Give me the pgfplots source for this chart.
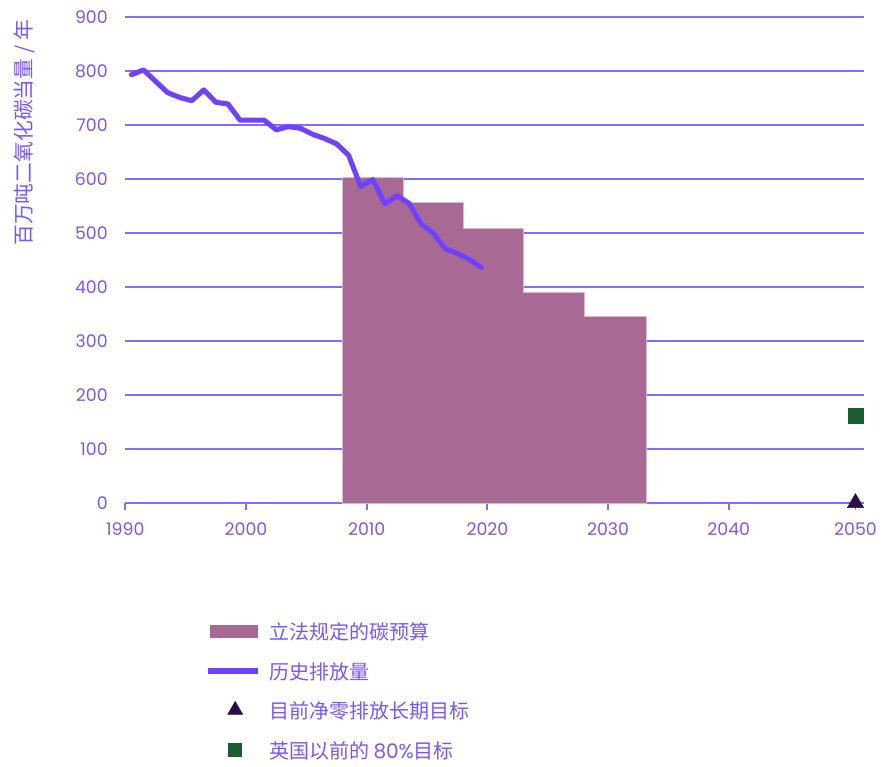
\documentclass[border=0pt]{standalone}
\usepackage{fontspec}
\setmainfont{Poppins}
\newfontfamily\cjk{Noto Sans CJK SC}
\newfontfamily\latinfont{Poppins}
\usepackage{pgfplots}
\pgfplotsset{compat=1.18}
\definecolor{txt}{RGB}{120,88,248}
\definecolor{gridc}{RGB}{135,105,255}
\definecolor{emis}{RGB}{112,66,255}
\definecolor{budget}{RGB}{168,106,148}
\definecolor{budgetedge}{RGB}{212,192,204}
\definecolor{netzero}{RGB}{45,12,75}
\definecolor{eighty}{RGB}{26,94,48}

\begin{document}
\begin{tikzpicture}
\path[use as bounding box] (-94pt,-198pt) rectangle (574.3pt,377.25pt);
\begin{axis}[
  at={(0,0)}, anchor=south west,
  scale only axis, width=554pt, height=364.5pt,
  xmin=1990, xmax=2051.2, ymin=0, ymax=900,
  clip=false,
  axis lines*=left,
  x axis line style={gridc, line width=1.4pt},
  y axis line style={draw=none},
  xtick={1990,2000,2010,2020,2030,2040,2050.5},
  xticklabels={1990,2000,2010,2020,2030,2040,2050},
  ytick={0,100,...,900},
  xtick align=outside,
  xtick style={gridc, line width=1.4pt},
  major tick length=5pt,
  ytick style={draw=none},
  ymajorgrids,
  grid style={gridc, line width=1.2pt},
  /pgf/number format/assume math mode=true,
  tick label style={font=\latinfont\fontsize{13pt}{15pt}\selectfont, text=txt},
  xticklabel style={inner sep=0pt, anchor=north, yshift=-10pt, text height=9.5pt, text depth=0pt},
  yticklabel style={inner sep=0pt, anchor=east, xshift=-13pt},
  ylabel={\cjk 百万吨二氧化碳当量 / 年},
  ylabel style={at={(axis description cs:-0.137,0.994)}, anchor=east, inner sep=0pt,
    font=\fontsize{15.6pt}{18pt}\selectfont, text=txt},
  legend cell align=left,
  legend style={at={(axis description cs:0.108,-0.2455)}, anchor=north west,
    draw=none, fill=none, inner sep=0pt, row sep=16.6pt, column sep=6.5pt,
    nodes={inner sep=0pt, text height=13pt, text depth=0pt,
      font=\cjk\fontsize{15pt}{18pt}\selectfont, text=txt}},
]
% legislated carbon budgets (per year averages)
\addplot[const plot, fill=budget, draw=budgetedge, line width=0.5pt,
  legend image code/.code={\path[draw=none, fill=none] (0pt,-5pt) rectangle (37pt,5pt);
    \fill[budget, draw=none] (1.7pt,-4.9pt) rectangle (37pt,4.9pt);}]
  coordinates {(2008,603.6) (2013,556.4) (2018,508.8) (2023,390) (2028,345) (2033.2,345)} \closedcycle;
\addlegendentry{立法规定的碳预算}
% historical emissions
\addplot[emis, line width=3.8pt, line join=round, line cap=round,
  legend image code/.code={\path[draw=none, fill=none] (0pt,-5pt) rectangle (37pt,5pt);
    \draw[emis, line width=4.3pt, line cap=butt] (0pt,0pt) -- (37pt,0pt);}]
  coordinates {
  (1990.5,793) (1991.5,802) (1992.5,781) (1993.5,760) (1994.5,751)
  (1995.5,745) (1996.5,765) (1997.5,742) (1998.5,739) (1999.5,709)
  (2000.5,709) (2001.5,709) (2002.5,691) (2003.5,697) (2004.5,694)
  (2005.5,683) (2006.5,675) (2007.5,665) (2008.5,644) (2009.5,586)
  (2010.5,599) (2011.5,554) (2012.5,569) (2013.5,555) (2014.5,517)
  (2015.5,500) (2016.5,471) (2017.5,462) (2018.5,451) (2019.5,436)};
\addlegendentry{历史排放量}
% net zero target
\addplot[only marks, mark=triangle*, mark size=7pt, color=netzero, fill=netzero,
  legend image code/.code={\path[draw=none, fill=none] (0pt,-5pt) rectangle (37pt,5pt);
    \path[draw=netzero, fill=netzero, mark size=6.5pt] plot[mark=triangle*] coordinates {(20.25pt,0pt)};}]
  coordinates {(2050.5,0)};
\addlegendentry{目前净零排放长期目标}
% previous 80% target
\addplot[only marks, mark=square*, mark size=5.8pt, color=eighty, fill=eighty,
  legend image code/.code={\path[draw=none, fill=none] (0pt,-5pt) rectangle (37pt,5pt);
    \path[draw=eighty, fill=eighty, mark size=4.9pt] plot[mark=square*] coordinates {(20.25pt,0pt)};}]
  coordinates {(2050.5,161)};
\addlegendentry{英国以前的 {\latinfont 80\%}目标}
\end{axis}
\end{tikzpicture}
\end{document}
